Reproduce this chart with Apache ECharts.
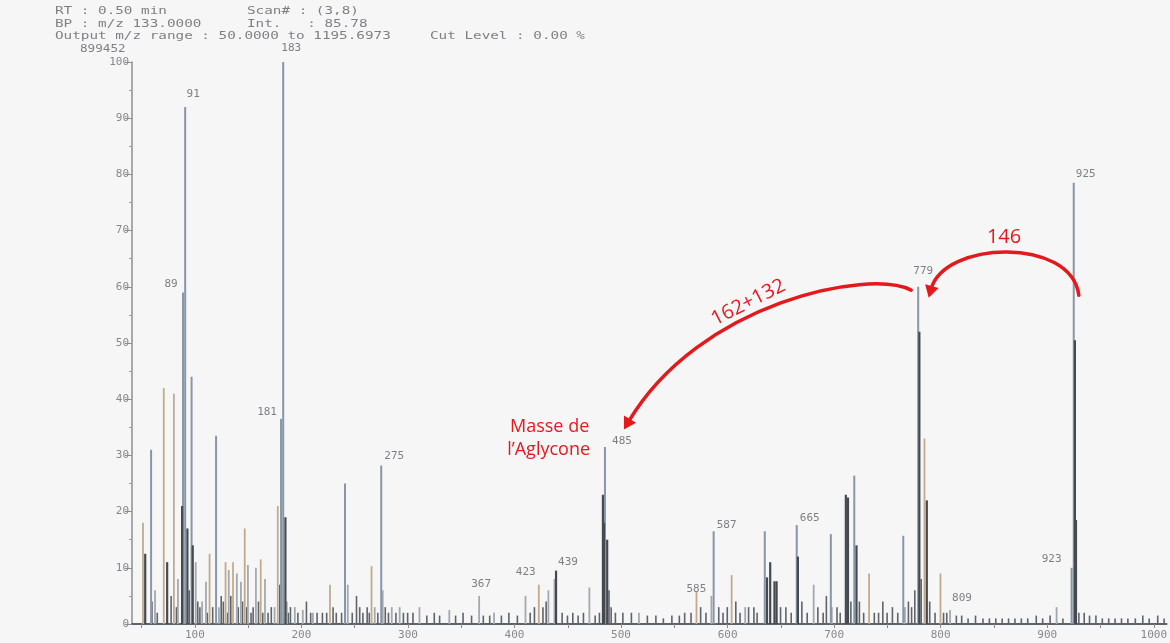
<!DOCTYPE html>
<html>
<head>
<meta charset="utf-8">
<script src="https://cdn.jsdelivr.net/npm/echarts@6/dist/echarts.min.js"></script>
<style>
html,body{margin:0;padding:0;background:#f6f6f7;}
#chart{width:1170px;height:643px;}
</style>
</head>
<body>
<div id="chart"></div>
<script>
// ---- data (m/z, relative intensity %) ----
const xTickLabels = [100,200,300,400,500,600,700,800,900,1000];
const xMinorTicks = [50,100,150,200,250,300,350,400,450,500,550,600,650,700,750,800,850,900,950,1000];
const peaksBlue = [[183,100],[91,92],[89,59],[97,44],[59,31],[120,33.5],[241,25],[275,28.2],[925,78.5],[779,60],[485,31.5],[587,16.5],[665,17.6],[719,26.4],[635,16.5],[697,16],[765,15.7],[923,10],[181,36.5]];
const peaksTan = [[71,42],[80.5,41],[51.5,18],[178,21],[147,17],[785,33],[266,10.3],[129,11],[136,11],[604,8.7],[733,9],[800,9],[423,7],[114,12.5],[227,7],[571,5.7],[162,11.5]];
const peaksDark = [[483,23],[484,18],[780,52],[926,50.5],[927,18.5],[711,23],[713,22.5],[637,8.3],[640,11],[644,7.6],[646,7.6],[666,12],[721,14],[787,22],[439,9.5],[185,19],[88,21],[93,17],[487,15],[53.4,12.5],[74,11],[98,14]];
const peaksGray = [[62.8,6],[84.3,8],[101,11],[107,4],[110.6,7.5],[122.8,3],[132,9.6],[139.6,9],[143.4,7.5],[150,10.5],[157.5,10],[166,8],[175,3],[186.5,4],[194,3],[201.5,2.5],[211,2],[243.7,7],[269,3],[276.5,6],[285,3],[292.4,3],[311,3],[339,2.5],[367,5],[381,2],[410.5,5],[432,6],[437.7,8],[470.5,6.5],[517,2],[585,5],[616.7,3],[681,7],[698,3],[766.6,3],[809,2.5],[909,3]];
const peaksNoise = [[60,4],[65,2],[78,5],[83,3],[95,6],[103,4],[105,3],[112,2],[117,3],[125,5],[127,4],[131,2],[134,5],[141,3],[145,4],[149,3],[153,2],[155,3],[160,4],[164,2],[169,2],[172,3],[180,7],[188,2],[190,3],[197,2],[205,4],[209,2],[215,2],[220,2],[224,2],[230,3],[233,2],[238,2],[248,2],[252,5],[255,3],[258,2],[262,3],[264,2],[272,2],[279,3],[282,2],[289,2],[296,2],[300,2],[305,2],[318,1.5],[325,2],[330,1.5],[345,1.5],[352,2],[360,1.5],[371,1.5],[377,1.5],[388,1.5],[395,2],[403,1.5],[415,2],[419,3],[427,3],[430,4],[445,2],[450,1.5],[455,2],[460,1.5],[465,2],[476,1.5],[480,2],[489,6],[491,3],[495,2],[502,2],[510,2],[525,1.5],[533,1.5],[540,1],[548,1.5],[555,1.5],[560,2],[566,2],[575,3],[580,2],[592,3],[596,2],[600,3],[608,4],[612,2],[620,3],[625,3],[628,2],[650,3],[655,3],[660,2],[670,4],[675,2],[685,3],[690,2],[693,5],[703,3],[706,2],[716,4],[724,4],[728,2],[738,2],[742,2],[746,4],[750,2],[755,3],[760,2],[770,4],[773,3],[776,6],[782,8],[790,4],[795,2],[803,2],[806,2],[815,1.5],[820,1.5],[826,1],[833,1.5],[840,1],[846,1],[852,1],[858,1],[864,1],[870,1],[876,1],[882,1],[890,1.5],[896,1],[903,1.5],[915,1],[930,2],[935,2],[940,1.5],[946,1.5],[952,1],[958,1],[964,1],[970,1],[976,1],[983,1],[990,1.5],[996,1],[1004,1.5],[1010,1]];
const labelledPeaks = [91,89,183,181,275,367,423,439,485,585,587,665,779,809,923,925];
const headerLines = [
  ['RT : 0.50 min', 'Scan# : (3,8)'],
  ['BP : m/z 133.0000', 'Int.   : 85.78'],
  ['Output m/z range : 50.0000 to 1195.6973', 'Cut Level : 0.00 %']
];
const baseIntensity = '899452';
const annotationTexts = ['146', '162+132', 'Masse de', 'l\u2019Aglycone'];

// ---- styling ----
const labelOffsets = {91:[8,-3],89:[-12,1],183:[8,-4],181:[-14,3],275:[13,0],367:[2,-2],423:[-13,-3],439:[12,1],485:[17,4],585:[-15,3],587:[13,3],665:[13,3],779:[5,-6],809:[12,-2],923:[-20,1],925:[12,1]};
const monoFont = 'DejaVu Sans Mono';
function mkData(arr){
  return arr.map(function(p){
    const item = {value:[p[0],p[1]]};
    if (labelledPeaks.indexOf(p[0]) >= 0) {
      item.label = {show:true, position:'top', distance:4, formatter:String(p[0]), offset:labelOffsets[p[0]],
        color:'#7d7f83', fontFamily:monoFont, fontSize:11};
    }
    return item;
  });
}
function barSeries(name, arr, color, w){
  return {name:name, type:'bar', data:mkData(arr), barWidth:w, barGap:'-100%',
    itemStyle:{color:color}, emphasis:{disabled:true}, animation:false, z: 2};
}

const chart = echarts.init(document.getElementById('chart'), null, {renderer:'canvas'});
chart.setOption({
  backgroundColor:'#f6f6f7',
  animation:false,
  grid:{left:132, right:2, top:62, bottom:19, containLabel:false},
  xAxis:{type:'value', min:41, max:1012,
    axisLine:{show:true, lineStyle:{color:'#5f6368', width:2}},
    axisTick:{show:true, length:4, customValues:xMinorTicks, lineStyle:{color:'#8a8c90'}},
    axisLabel:{customValues:xTickLabels, formatter:function(v){return String(v);}, color:'#86888c', fontFamily:monoFont, fontSize:11, margin:6},
    splitLine:{show:false}},
  yAxis:{type:'value', min:0, max:100, interval:10,
    axisLine:{show:true, lineStyle:{color:'#8a8e93', width:1.5}},
    axisTick:{show:true, length:7, lineStyle:{color:'#8a8c90'}},
    minorTick:{show:true, splitNumber:2, length:3, lineStyle:{color:'#9a9ca0'}},
    axisLabel:{color:'#86888c', fontFamily:monoFont, fontSize:11, margin:3},
    splitLine:{show:false}},
  series:[
    barSeries('noise', peaksNoise, '#5f646b', 1.6),
    barSeries('gray', peaksGray, '#a4a9ae', 1.8),
    barSeries('tan', peaksTan, '#c0ab8c', 1.8),
    barSeries('blue', peaksBlue, '#8797a6', 2),
    barSeries('dark', peaksDark, '#454a51', 2.2)
  ]
});

// ---- annotations (positions given in data coordinates, converted by the axes) ----
function px(mz, inten){ return chart.convertToPixel({gridIndex:0}, [mz, inten]); }
const red = '#e5191c';
function arrow(p0, p1, p2, p3){
  const a = px(p0[0],p0[1]), b = px(p1[0],p1[1]), c = px(p2[0],p2[1]), d = px(p3[0],p3[1]);
  let dx = d[0]-c[0], dy = d[1]-c[1];
  const L = Math.sqrt(dx*dx+dy*dy); dx/=L; dy/=L;
  const tip = [d[0]+dx*9, d[1]+dy*9];
  const base = [d[0]-dx*3, d[1]-dy*3];
  const nx = -dy, ny = dx;
  return [
    {type:'bezierCurve', shape:{x1:a[0],y1:a[1],cpx1:b[0],cpy1:b[1],cpx2:c[0],cpy2:c[1],x2:d[0],y2:d[1]},
      style:{stroke:red, lineWidth:3.5, fill:null, lineCap:'round'}, z:50},
    {type:'polygon', shape:{points:[tip,[base[0]+nx*7,base[1]+ny*7],[base[0]-nx*7,base[1]-ny*7]]},
      style:{fill:red}, z:50}
  ];
}
let graphics = [];
graphics = graphics.concat(arrow([929.7,58.5],[922.2,69.0],[803.2,68.2],[791.0,59.6]));
graphics = graphics.concat(arrow([772.3,59.4],[733,63.3],[573.5,57.3],[507.0,36.0]));
const t146 = px(859.5, 68.8);
const t162 = px(619.5, 57.2);
const tM1 = px(433, 35);
const tM2 = px(432, 31.0);
const redFont = '"Open Sans"';
graphics.push({type:'text', x:t146[0], y:t146[1], style:{text:annotationTexts[0], font:'20px '+redFont, fill:red, textAlign:'center', textVerticalAlign:'middle'}, z:51});
graphics.push({type:'text', x:t162[0], y:t162[1], rotation:27*Math.PI/180, style:{text:annotationTexts[1], font:'20px '+redFont, fill:red, textAlign:'center', textVerticalAlign:'middle'}, z:51});
graphics.push({type:'text', x:tM1[0], y:tM1[1], style:{text:annotationTexts[2], font:'18px '+redFont, fill:red, textAlign:'center', textVerticalAlign:'middle'}, z:51});
graphics.push({type:'text', x:tM2[0], y:tM2[1], style:{text:annotationTexts[3], font:'18px '+redFont, fill:red, textAlign:'center', textVerticalAlign:'middle'}, z:51});
// header texts
const headerY = [11, 24, 36];
headerLines.forEach(function(line, i){
  graphics.push({type:'text', x:55, y:headerY[i], scaleX:1.3, style:{text:line[0], font:'11px "'+monoFont+'"', fill:'#7e8084', textVerticalAlign:'middle'}});
  graphics.push({type:'text', x:(i===2?430:247), y:headerY[i], scaleX:1.3, style:{text:line[1], font:'11px "'+monoFont+'"', fill:'#7e8084', textVerticalAlign:'middle'}});
});
graphics.push({type:'text', x:80, y:49, scaleX:1.15, style:{text:baseIntensity, font:'11px "'+monoFont+'"', fill:'#7e8084', textVerticalAlign:'middle'}});
chart.setOption({graphic:graphics});
</script>
</body>
</html>
